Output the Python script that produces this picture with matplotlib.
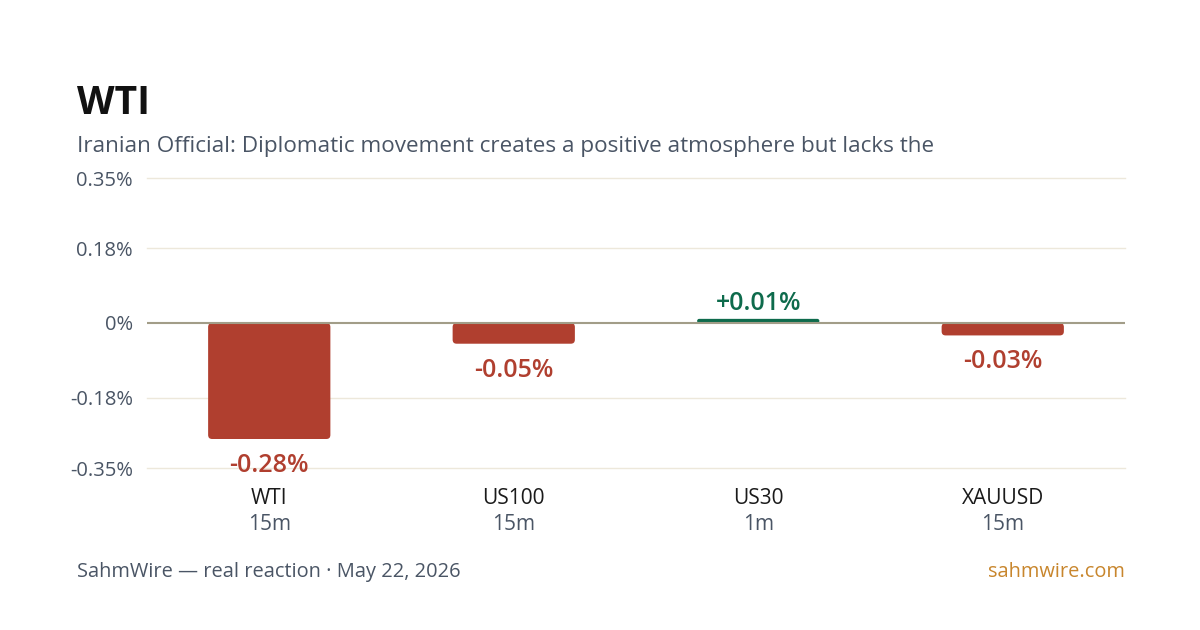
import matplotlib
matplotlib.use("Agg")
import matplotlib.pyplot as plt
from matplotlib.patches import FancyBboxPatch

plt.rcParams['font.family'] = ['Open Sans', 'DejaVu Sans']

# data
symbols = ["WTI", "US100", "US30", "XAUUSD"]
windows = ["15m", "15m", "1m", "15m"]
changes = [-0.28, -0.05, 0.01, -0.03]
ytick_vals = [0.35, 0.18, 0.0, -0.18, -0.35]
ytick_labels = ["0.35%", "0.18%", "0%", "-0.18%", "-0.35%"]

title = "WTI"
subtitle = "Iranian Official: Diplomatic movement creates a positive atmosphere but lacks the"
footer_left = "SahmWire \u2014 real reaction \u00b7 May 22, 2026"
footer_right = "sahmwire.com"

RED = "#B03F2F"
GREEN = "#0E6B4C"
GRAY = "#4A5565"
GRID = "#EDE8DB"
ZERO = "#A29D88"
ORANGE = "#C8862D"

W, H = 1200, 630
fig = plt.figure(figsize=(W / 100, H / 100), dpi=100)
fig.patch.set_facecolor("white")

ax = fig.add_axes([147 / W, 1 - 468 / H, (1125 - 147) / W, (468 - 178) / H])
ax.set_xlim(-0.5, len(symbols) - 0.5)
ax.set_ylim(-0.35, 0.35)
for s in ax.spines.values():
    s.set_visible(False)
ax.set_xticks([])
ax.set_yticks(ytick_vals)
ax.set_yticklabels(ytick_labels)
ax.tick_params(axis="y", length=0, pad=10, labelsize=14.5, labelcolor=GRAY)
for v in ytick_vals:
    if v != 0:
        ax.axhline(v, color=GRID, lw=1.0, zorder=0, clip_on=False)
ax.axhline(0, color=ZERO, lw=1.5, zorder=3)

# pixel scales for rounded corners
px_x = (1125 - 147) / len(symbols)          # px per x unit
px_y = (468 - 178) / 0.70                   # px per y unit
bar_w = 0.5
for i, (sym, win, v) in enumerate(zip(symbols, windows, changes)):
    color = GREEN if v > 0 else RED
    h_px = abs(v) * px_y
    r_px = min(4.0, h_px / 2 - 0.01)
    rs = r_px / px_x
    aspect = px_x / px_y
    y0 = min(0, v)
    patch = FancyBboxPatch((i - bar_w / 2 + rs, y0 + rs * aspect),
                           bar_w - 2 * rs, abs(v) - 2 * rs * aspect,
                           boxstyle=f"round,pad={rs},rounding_size={rs}",
                           mutation_aspect=aspect,
                           fc=color, ec="none", zorder=2)
    ax.add_patch(patch)
    label = f"+{v:.2f}%" if v > 0 else f"{v:.2f}%"
    if v > 0:
        ax.annotate(label, (i, v), xytext=(0, 2), textcoords="offset points",
                    ha="center", va="bottom", color=color, fontsize=18,
                    fontweight="semibold")
    else:
        ax.annotate(label, (i, v), xytext=(0, -10), textcoords="offset points",
                    ha="center", va="top", color=color, fontsize=18,
                    fontweight="semibold")
    ax.annotate(sym, (i, 0), xycoords=("data", "axes fraction"), xytext=(0, -22),
                textcoords="offset points", ha="center", va="center",
                fontsize=15, color="#1A1A1A")
    ax.annotate(win, (i, 0), xycoords=("data", "axes fraction"), xytext=(0, -41),
                textcoords="offset points", ha="center", va="center",
                fontsize=15, color=GRAY)

fig.text(77 / W, 1 - 104 / H, title, fontsize=28, fontweight="bold",
         color="#111111", va="center", ha="left")
fig.text(77 / W, 1 - 146 / H, subtitle, fontsize=16.2, color=GRAY,
         va="center", ha="left")
fig.text(77 / W, 1 - 572 / H, footer_left, fontsize=14.4, color=GRAY,
         va="center", ha="left")
fig.text(1125 / W, 1 - 572 / H, footer_right, fontsize=14.4, color=ORANGE,
         va="center", ha="right")

fig.savefig("out.png", dpi=100, facecolor="white")
